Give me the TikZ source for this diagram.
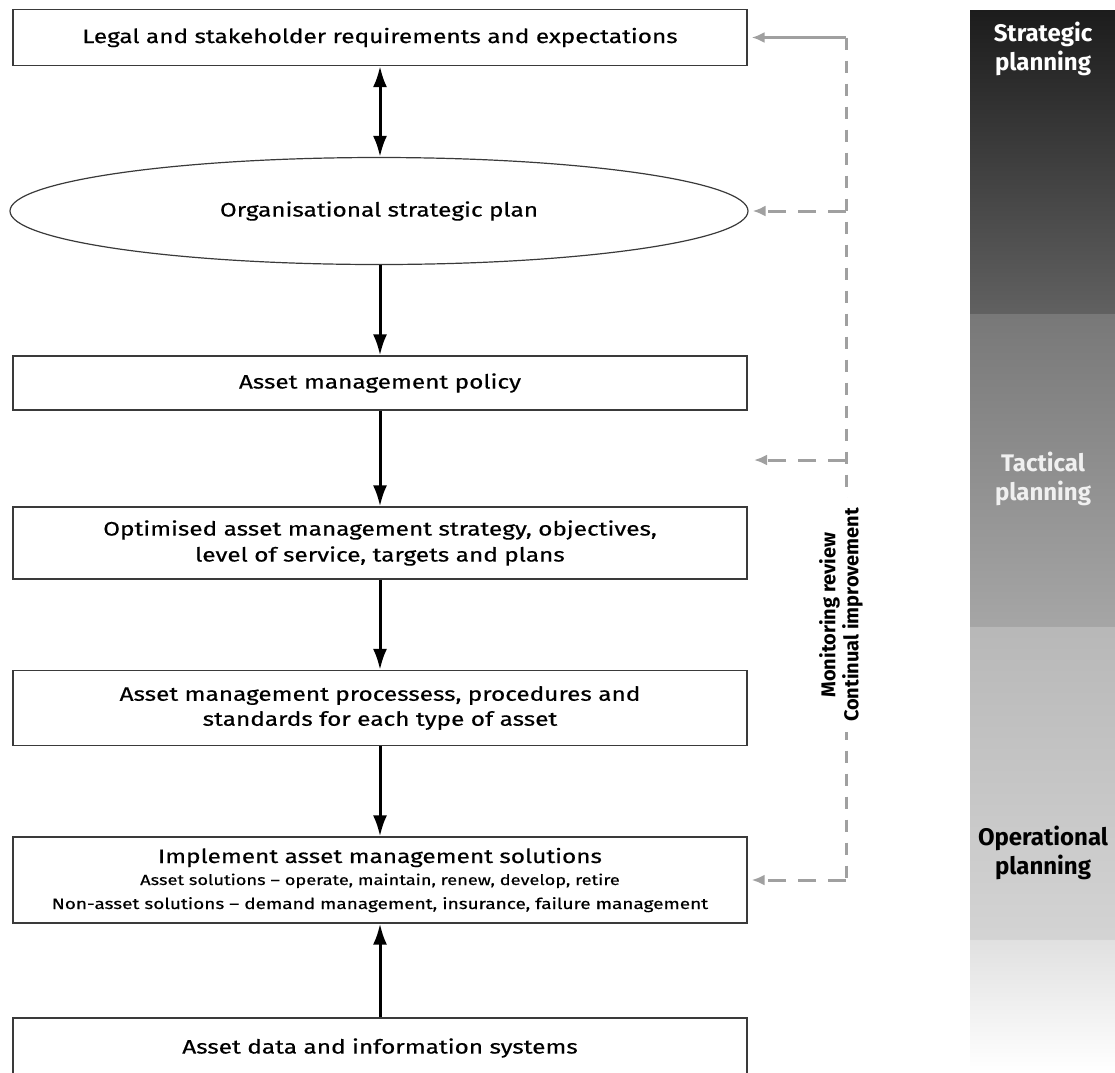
\documentclass[tikz,border=0pt]{standalone}
\usepackage{fontspec}
\setmainfont{Fira Sans}
\newfontfamily\boxfont{Fira Sans}[FakeStretch=1.25, FakeBold=0.4, Ligatures=TeX]
\usetikzlibrary{arrows.meta,shapes.geometric}

\definecolor{fbgray}{HTML}{A0A0A0}
\definecolor{boxline}{HTML}{3A3A3A}

\tikzset{
  stagebox/.style={draw=boxline, line width=1.2pt, fill=white, minimum width=734pt,
    inner sep=0pt, align=center, font=\boxfont\fontsize{19.5}{25}\selectfont},
  stageoval/.style={ellipse, draw=boxline, line width=1.2pt, fill=white,
    minimum width=738pt, minimum height=107pt, inner sep=0pt, align=center,
    font=\boxfont\fontsize{19.5}{25}\selectfont},
  flow/.style={line width=3pt, black, -{Latex[length=21pt,width=14pt]}},
  flowboth/.style={line width=3pt, black, {Latex[length=21pt,width=14pt]}-{Latex[length=21pt,width=14pt]}},
  feedsolid/.style={line width=3pt, fbgray},
  feeddash/.style={line width=3pt, fbgray, dash pattern=on 12pt off 11pt},
  feedarrow/.style={line width=3pt, fbgray, dash pattern=on 18pt off 12pt,
    -{Latex[length=13pt,width=11pt]}, shorten >=4pt},
  barlabel/.style={font=\fontsize{24}{29}\selectfont\bfseries, align=center},
}
\newcommand\smallline[2]{{\fontsize{#1}{20}\selectfont #2}}

\begin{document}
\begin{tikzpicture}[x=1pt, y=-1pt]
\useasboundingbox (0,0) rectangle (1115,1072);
\clip (0,0) rectangle (1115,1072);

% planning horizon bar
\shade[top color=black!89, bottom color=black!62] (970,10) rectangle (1115,314);
\shade[top color=black!53, bottom color=black!35] (970,314) rectangle (1115,627);
\shade[top color=black!28, bottom color=black!17] (970,627) rectangle (1115,940);
\shade[top color=black!12, bottom color=white] (970,940) rectangle (1115,1072);
\node[barlabel, text=white] (strat) at (1043,49) {Strategic\\planning};
\node[barlabel, text=black!6] (tact) at (1043,479) {Tactical\\planning};
\node[barlabel, text=black] (oper) at (1043,853) {Operational\\planning};

% stages
\node[stagebox, minimum height=56pt] (legal) at (380,37.5)
  {Legal and stakeholder requirements and expectations};
\node[stageoval] (orgplan) at (379,211) {Organisational strategic plan};
\node[stagebox, minimum height=54pt] (policy) at (380,383) {Asset management policy};
\node[stagebox, minimum height=72pt] (strategy) at (380,543)
  {Optimised asset management strategy, objectives,\\[1pt]level of service, targets and plans};
\node[stagebox, minimum height=75pt] (process) at (380,708)
  {Asset management processess, procedures and\\standards for each type of asset};
\node[stagebox, minimum height=86pt] (implement) at (380,880)
  {Implement asset management solutions\\[-3pt]
   \smallline{14.6}{Asset solutions – operate, maintain, renew, develop, retire}\\[-1pt]
   \smallline{15.2}{Non-asset solutions – demand management, insurance, failure management}};
\node[stagebox, minimum height=60pt] (data) at (380,1048) {Asset data and information systems};

% main flow
\draw[flowboth] (legal.south -| 380,0) -- (orgplan.north -| 380,0);
\draw[flow] (orgplan.south -| 380,0) -- (policy.north -| 380,0);
\draw[flow] (policy.south -| 380,0) -- (strategy.north -| 380,0);
\draw[flow] (strategy.south -| 380,0) -- (process.north -| 380,0);
\draw[flow] (process.south -| 380,0) -- (implement.north -| 380,0);
\draw[flow] (data.north -| 380,0) -- (implement.south -| 380,0);

% feedback loop
\coordinate (fbtop) at (846,37.5);
\coordinate (fbbot) at (846,880);
\coordinate (fbgap) at (750,460);
\draw[feedsolid, -{Latex[length=13pt,width=11pt]}, shorten >=4pt] (fbtop) -- (legal.east);
\draw[feeddash] (fbtop) -- (fbbot);
\draw[feedarrow] (fbtop |- orgplan.east) -- (orgplan.east);
\draw[feedarrow] (fbtop |- fbgap) -- (fbgap);
\draw[feedarrow] (fbbot) -- (implement.east);
\node[rotate=90, fill=white, inner xsep=10pt, inner ysep=2pt, align=center,
  font=\fontsize{20}{23}\selectfont\bfseries] (fbtext) at (841,615)
  {Monitoring review\\Continual improvement};
\end{tikzpicture}
\end{document}
